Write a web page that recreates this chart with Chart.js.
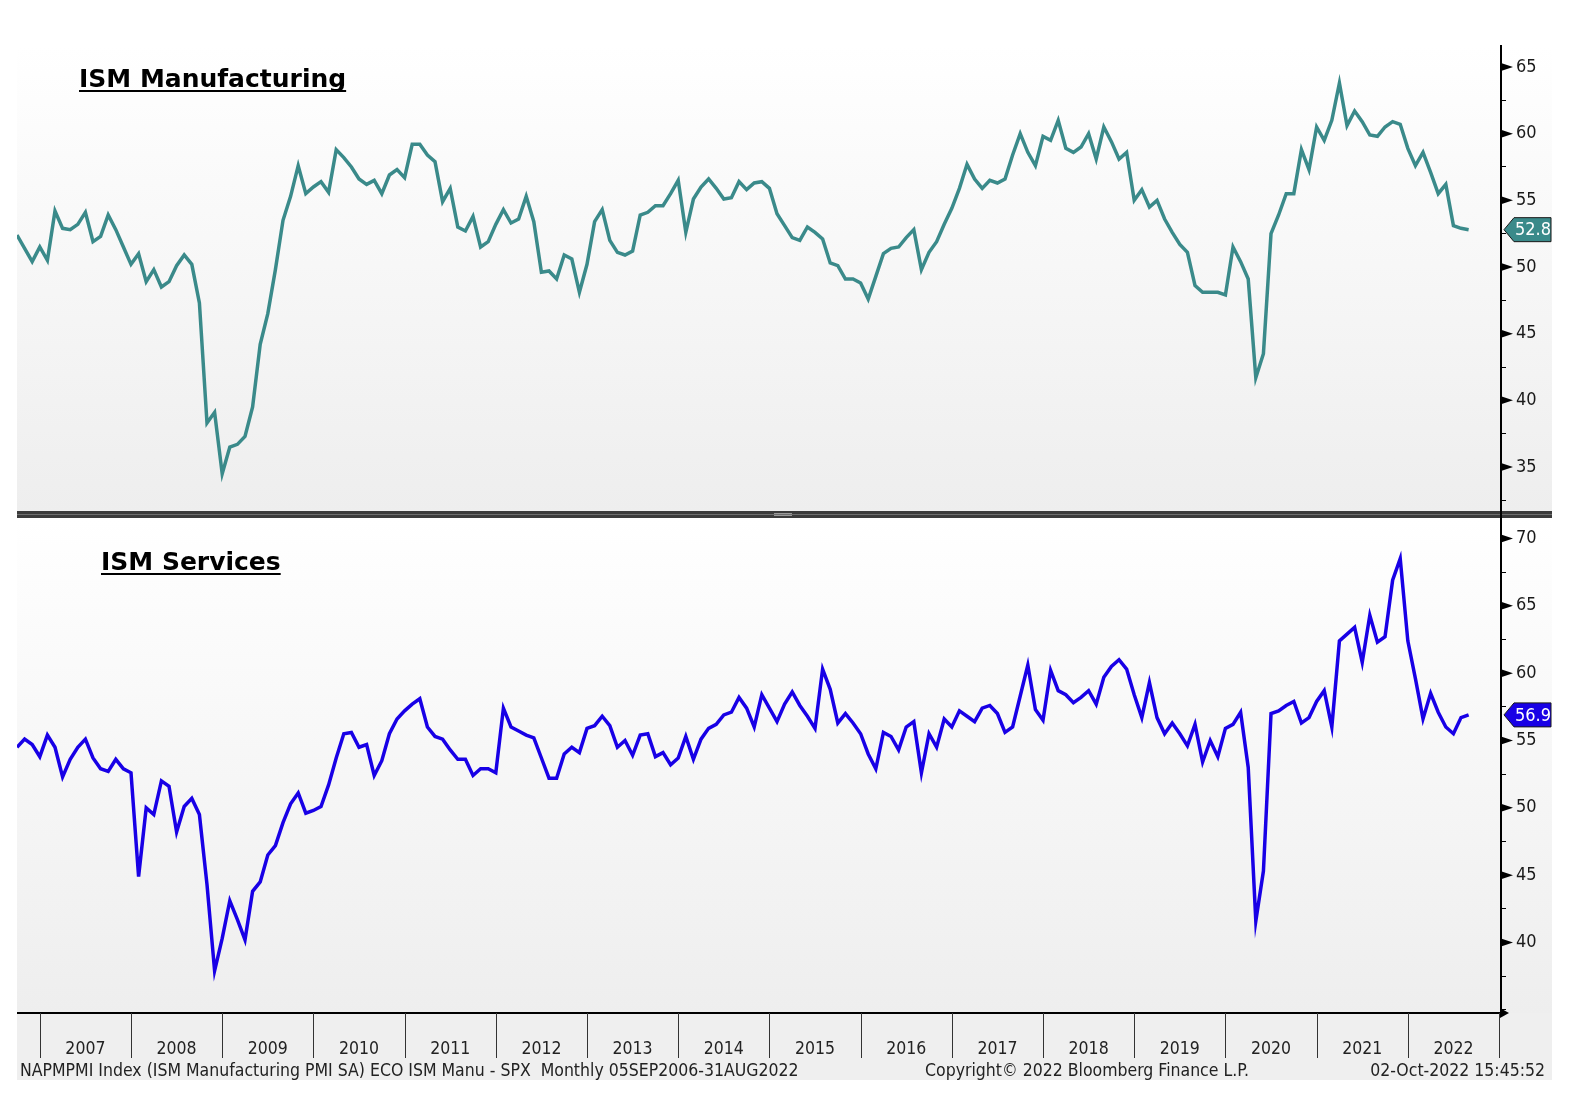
<!DOCTYPE html>
<html>
<head>
<meta charset="utf-8">
<script src="https://cdn.jsdelivr.net/npm/chart.js@4.4.1/dist/chart.umd.min.js"></script>
<style>
  html, body { margin: 0; padding: 0; background: #fff; }
  body { width: 1572px; height: 1098px; position: relative; overflow: hidden; }
  canvas { position: absolute; left: 0; }
  #chartMfg { top: 0; }
  #chartSvc { top: 511px; }
</style>
</head>
<body>
<canvas id="chartMfg" width="1572" height="511"></canvas>
<canvas id="chartSvc" width="1572" height="587"></canvas>
<script>
// monthly points, first one is Sep 2006, last one Aug 2022 (plotted at month end)
const firstMonth = 'Sep 2006';
const years = [2007, 2008, 2009, 2010, 2011, 2012, 2013, 2014, 2015, 2016, 2017, 2018, 2019, 2020, 2021, 2022];

const ismManufacturing = [
  52.4, 51.4, 50.4, 51.5,                                             // 2006 Sep-Dec
  50.5, 54.2, 52.9, 52.8, 53.2, 54.1, 51.9, 52.3, 53.9, 52.8, 51.5, 50.2, // 2007
  51.0, 48.9, 49.8, 48.5, 48.9, 50.1, 50.9, 50.2, 47.3, 38.3, 39.1, 34.5, // 2008
  36.5, 36.7, 37.3, 39.5, 44.2, 46.5, 49.8, 53.5, 55.3, 57.6, 55.5, 56.0, // 2009
  56.4, 55.6, 58.8, 58.2, 57.5, 56.6, 56.2, 56.5, 55.5, 56.9, 57.3, 56.7, // 2010
  59.2, 59.2, 58.4, 57.9, 54.9, 55.9, 53.0, 52.7, 53.8, 51.5, 51.9, 53.2, // 2011
  54.3, 53.3, 53.6, 55.3, 53.4, 49.6, 49.7, 49.1, 50.9, 50.6, 48.1, 50.2, // 2012
  53.4, 54.3, 52.0, 51.1, 50.9, 51.2, 53.9, 54.1, 54.6, 54.6, 55.5, 56.5, // 2013
  52.6, 55.1, 56.0, 56.6, 55.9, 55.1, 55.2, 56.4, 55.8, 56.3, 56.4, 55.9, // 2014
  54.0, 53.1, 52.2, 52.0, 53.0, 52.6, 52.1, 50.3, 50.1, 49.1, 49.1, 48.8, // 2015
  47.6, 49.3, 51.0, 51.4, 51.5, 52.2, 52.8, 49.8, 51.1, 51.9, 53.2, 54.4, // 2016
  55.9, 57.7, 56.6, 55.9, 56.5, 56.3, 56.6, 58.4, 60.0, 58.6, 57.6, 59.8, // 2017
  59.5, 61.0, 58.9, 58.6, 59.0, 60.0, 58.1, 60.5, 59.4, 58.1, 58.6, 55.0, // 2018
  55.8, 54.5, 55.0, 53.6, 52.6, 51.7, 51.1, 48.6, 48.1, 48.1, 48.1, 47.9, // 2019
  51.5, 50.4, 49.1, 41.7, 43.5, 52.5, 53.9, 55.5, 55.5, 58.8, 57.3, 60.5, // 2020
  59.5, 61.0, 63.8, 60.6, 61.7, 60.9, 59.9, 59.8, 60.5, 60.9, 60.7, 58.9, // 2021
  57.6, 58.6, 57.1, 55.5, 56.2, 53.1, 52.9, 52.8                          // 2022 Jan-Aug
];

const ismServices = [
  54.5, 55.1, 54.7, 53.8,
  55.4, 54.5, 52.3, 53.6, 54.5, 55.1, 53.7, 52.9, 52.7, 53.6, 52.9, 52.6,
  44.9, 50.0, 49.5, 52.0, 51.6, 48.2, 50.1, 50.7, 49.5, 44.3, 37.9, 40.3,
  43.1, 41.7, 40.2, 43.8, 44.5, 46.5, 47.2, 48.9, 50.3, 51.1, 49.6, 49.8,
  50.1, 51.7, 53.7, 55.5, 55.6, 54.5, 54.7, 52.4, 53.5, 55.5, 56.6, 57.2,
  57.7, 58.1, 56.0, 55.3, 55.1, 54.3, 53.6, 53.6, 52.4, 52.9, 52.9, 52.6,
  57.4, 56.0, 55.7, 55.4, 55.2, 53.7, 52.2, 52.2, 54.0, 54.5, 54.1, 55.9,
  56.1, 56.8, 56.1, 54.5, 55.0, 53.9, 55.4, 55.5, 53.8, 54.1, 53.2, 53.7,
  55.3, 53.6, 55.1, 55.9, 56.2, 56.9, 57.1, 58.2, 57.4, 56.0, 58.4, 57.4,
  56.4, 57.7, 58.6, 57.6, 56.8, 55.9, 60.3, 58.8, 56.3, 57.0, 56.3, 55.5,
  54.0, 52.9, 55.6, 55.3, 54.3, 56.0, 56.4, 52.6, 55.5, 54.5, 56.6, 56.0,
  57.2, 56.8, 56.4, 57.4, 57.6, 57.0, 55.6, 56.0, 58.3, 60.6, 57.3, 56.5,
  60.2, 58.7, 58.4, 57.8, 58.2, 58.7, 57.7, 59.7, 60.5, 61.0, 60.3, 58.4,
  56.7, 59.3, 56.7, 55.5, 56.3, 55.5, 54.6, 56.2, 53.4, 55.0, 53.8, 55.9,
  56.2, 57.1, 53.0, 41.6, 45.3, 57.0, 57.2, 57.6, 57.9, 56.3, 56.7, 57.9,
  58.7, 56.0, 62.4, 62.9, 63.4, 60.8, 64.3, 62.3, 62.7, 66.9, 68.5, 62.4,
  59.6, 56.6, 58.5, 57.1, 56.0, 55.5, 56.7, 56.9
];

const footerLeft = 'NAPMPMI Index (ISM Manufacturing PMI SA) ECO ISM Manu - SPX  Monthly 05SEP2006-31AUG2022';
const footerMid = 'Copyright\u00a9 2022 Bloomberg Finance L.P.';
const footerRight = '02-Oct-2022 15:45:52';

const FONT = "'DejaVu Sans Condensed', 'DejaVu Sans', sans-serif";
const RIGHT_EDGE = 1552;
// months from first point to Jan 1st of the first labelled year
const yearStart = y => 3 + 12 * (y - years[0]);

function toPoints(arr) {
  return arr.map((v, i) => ({ x: i, y: v }));
}

function decoPlugin(o) {
  return {
    id: 'deco',
    beforeDraw(chart) {
      const { ctx, chartArea: a } = chart;
      ctx.save();
      const g = ctx.createLinearGradient(0, a.top, 0, a.bottom);
      g.addColorStop(0, '#ffffff');
      g.addColorStop(1, '#eeeeee');
      ctx.fillStyle = g;
      ctx.fillRect(a.left, a.top, RIGHT_EDGE - a.left, a.bottom - a.top);
      if (o.xAxis) {
        ctx.fillStyle = '#efefef';
        ctx.fillRect(a.left, a.bottom, RIGHT_EDGE - a.left, 67);
      }
      ctx.restore();
    },
    afterDraw(chart) {
      const { ctx, chartArea: a } = chart;
      const ys = chart.scales.y, xs = chart.scales.x;
      ctx.save();

      // separator bar above the lower panel
      if (o.separator) {
        ctx.fillStyle = '#3b3b3b';
        ctx.fillRect(a.left, 0, RIGHT_EDGE - a.left, 7);
        ctx.fillStyle = '#6e6e6e';
        ctx.fillRect(a.left, 3, RIGHT_EDGE - a.left, 1);
        ctx.fillStyle = '#9a9a9a';
        ctx.fillRect(774, 2, 18, 1);
        ctx.fillRect(774, 4, 18, 1);
        ctx.fillStyle = '#000';
        ctx.fillRect(a.right - 1, 0, 2, 7);
      }

      // major tick arrows
      ctx.fillStyle = '#000';
      ys.ticks.forEach(t => {
        if (t.value % 5 !== 0 || t.value < o.minLabel) return;
        const y = ys.getPixelForValue(t.value);
        ctx.beginPath();
        ctx.moveTo(a.right, y - 4);
        ctx.lineTo(a.right + 12, y);
        ctx.lineTo(a.right, y + 4);
        ctx.closePath();
        ctx.fill();
      });

      // last value tag
      const last = o.data[o.data.length - 1];
      const ty = ys.getPixelForValue(last);
      ctx.beginPath();
      ctx.moveTo(a.right + 3, ty);
      ctx.lineTo(a.right + 13, ty - 12);
      ctx.lineTo(RIGHT_EDGE - 1, ty - 12);
      ctx.lineTo(RIGHT_EDGE - 1, ty + 12);
      ctx.lineTo(a.right + 13, ty + 12);
      ctx.closePath();
      ctx.fillStyle = o.color;
      ctx.fill();
      ctx.strokeStyle = '#1a1a1a';
      ctx.lineWidth = 1;
      ctx.stroke();
      ctx.fillStyle = '#fff';
      ctx.font = '18px ' + FONT;
      ctx.textBaseline = 'middle';
      ctx.textAlign = 'left';
      ctx.fillText(last.toFixed(1), a.right + 14, ty + 1);

      // panel title
      ctx.fillStyle = '#000';
      ctx.font = "bold 25px 'DejaVu Sans', sans-serif";
      ctx.textBaseline = 'alphabetic';
      ctx.fillText(o.title, o.titleX, o.titleY);
      const w = ctx.measureText(o.title).width;
      ctx.fillRect(o.titleX, o.titleY + 3, w, 2);

      if (o.xAxis) {
        // time axis
        ctx.fillStyle = '#000';
        ctx.fillRect(a.left, a.bottom - 1, a.right - a.left, 2);
        ctx.beginPath();
        ctx.moveTo(a.right - 1, a.bottom - 5);
        ctx.lineTo(a.right + 8, a.bottom);
        ctx.lineTo(a.right - 1, a.bottom + 5);
        ctx.closePath();
        ctx.fill();

        ctx.strokeStyle = '#333';
        ctx.lineWidth = 1;
        years.concat([years[years.length - 1] + 1]).forEach(y => {
          const x = Math.round(xs.getPixelForValue(yearStart(y))) + 0.5;
          ctx.beginPath();
          ctx.moveTo(x, a.bottom);
          ctx.lineTo(x, a.bottom + 45);
          ctx.stroke();
        });

        ctx.fillStyle = '#222';
        ctx.font = '17.5px ' + FONT;
        ctx.textAlign = 'center';
        years.forEach(y => {
          ctx.fillText(String(y), xs.getPixelForValue(yearStart(y) + 6), a.bottom + 41);
        });

        ctx.textAlign = 'left';
        ctx.fillText(footerLeft, 20, a.bottom + 63);
        ctx.fillText(footerMid, 925, a.bottom + 63);
        ctx.textAlign = 'right';
        ctx.fillText(footerRight, 1545, a.bottom + 63);
      }
      ctx.restore();
    }
  };
}

function yScale(min, max, minLabel) {
  return {
    position: 'right',
    min: min,
    max: max,
    afterFit: s => {
      s.width = 71;
      s.paddingTop = 0;
      s.paddingBottom = 0;
    },
    border: { display: true, color: '#000', width: 2 },
    grid: { drawOnChartArea: false, drawTicks: true, tickLength: 5, color: '#000', tickColor: '#000' },
    ticks: {
      stepSize: 2.5,
      includeBounds: false,
      autoSkip: false,
      padding: 10,
      color: '#1a1a1a',
      font: { family: FONT, size: 18 },
      callback: v => (v % 5 === 0 && v >= minLabel ? v : '')
    }
  };
}

const xScale = { type: 'linear', min: 0, max: 195.26, display: false };

new Chart(document.querySelector('#chartMfg').getContext('2d'), {
  type: 'line',
  data: {
    datasets: [{
      label: 'ISM Manufacturing',
      data: toPoints(ismManufacturing),
      borderColor: '#3a8a8a',
      borderWidth: 3.5,
      pointRadius: 0,
      tension: 0
    }]
  },
  options: {
    responsive: false,
    animation: false,
    layout: { padding: { left: 17, top: 46, right: 0, bottom: 0 } },
    plugins: { legend: { display: false }, tooltip: { enabled: false } },
    scales: { x: xScale, y: yScale(31.7, 66.575, 35) }
  },
  plugins: [decoPlugin({
    data: ismManufacturing, color: '#3a8a8a', minLabel: 35,
    title: 'ISM Manufacturing', titleX: 79, titleY: 87
  })]
});

new Chart(document.querySelector('#chartSvc').getContext('2d'), {
  type: 'line',
  data: {
    datasets: [{
      label: 'ISM Services',
      data: toPoints(ismServices),
      borderColor: '#1800e6',
      borderWidth: 3.5,
      pointRadius: 0,
      tension: 0
    }]
  },
  options: {
    responsive: false,
    animation: false,
    layout: { padding: { left: 17, top: 7, right: 0, bottom: 85 } },
    plugins: { legend: { display: false }, tooltip: { enabled: false } },
    scales: { x: xScale, y: yScale(34.765, 71.52, 40) }
  },
  plugins: [decoPlugin({
    data: ismServices, color: '#1800e6', minLabel: 40,
    title: 'ISM Services', titleX: 101, titleY: 59,
    separator: true, xAxis: true
  })]
});
</script>
</body>
</html>
